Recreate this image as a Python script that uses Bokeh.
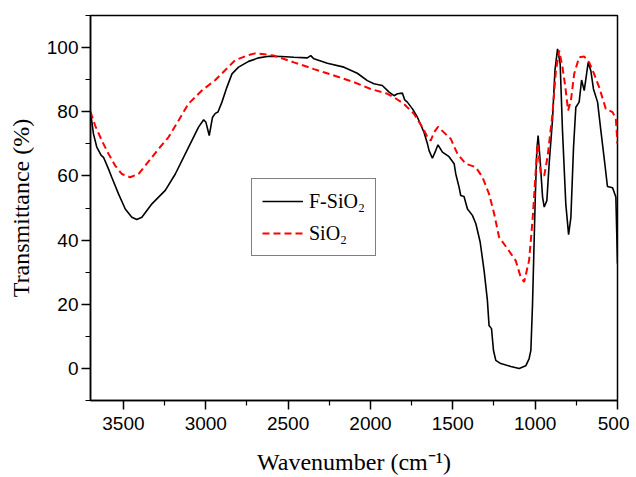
from bokeh.plotting import figure
from bokeh.models import Range1d, Legend, LegendItem, FixedTicker
from bokeh.embed import file_html
from bokeh.resources import INLINE

# F-SiO2 (black, solid)
f_wn = [3700, 3682, 3662, 3635, 3621, 3591, 3571, 3530, 3489, 3449, 3419, 3388, 3327, 3246,
        3185, 3105, 3044, 3013, 2999, 2979, 2959, 2942, 2926, 2902, 2872, 2841, 2801, 2740,
        2679, 2618, 2540, 2465, 2383, 2363, 2343, 2262, 2161, 2080, 2019, 1979, 1928, 1887,
        1857, 1836, 1806, 1792, 1776, 1745, 1715, 1675, 1654, 1644, 1624, 1604, 1590, 1563,
        1523, 1492, 1482, 1462, 1452, 1432, 1411, 1381, 1360, 1334, 1310, 1290, 1280, 1265,
        1253, 1239, 1209, 1148, 1097, 1057, 1037, 1026, 1016, 1006, 1000, 990, 982, 970,
        955, 945, 929, 915, 895, 880, 864, 848, 834, 814, 797, 783, 767, 753, 733, 718, 702,
        678, 662, 646, 621, 601, 577, 561, 530, 510, 500]
f_t = [80.0, 73.1, 69.0, 66.4, 65.8, 62.2, 59.6, 54.4, 49.7, 47.1, 46.4, 47.1, 51.3, 55.5,
       60.6, 68.9, 75.2, 77.5, 76.7, 72.6, 78.3, 79.5, 79.9, 83.0, 87.6, 91.8, 93.9, 95.7,
       96.8, 97.3, 97.2, 97.0, 96.8, 97.5, 96.5, 95.1, 93.9, 92.0, 89.7, 88.7, 88.2, 86.1,
       85.0, 85.6, 85.8, 83.7, 83.0, 80.9, 78.3, 73.6, 70.0, 67.9, 65.5, 67.9, 69.7, 67.4,
       66.0, 63.8, 60.6, 56.5, 53.9, 53.6, 49.7, 47.7, 45.1, 39.4, 30.5, 21.2, 13.4, 12.4,
       5.6, 2.5, 1.5, 0.6, 0.0, 0.8, 3.0, 5.6, 20.0, 40.0, 52.0, 68.0, 72.6, 65.0,
       53.4, 50.3, 52.3, 63.8, 77.3, 92.8, 99.6, 94.9, 74.1, 51.3, 41.7, 47.1, 68.9, 81.4,
       83.0, 89.9, 86.6, 95.4, 92.8, 87.1, 83.0, 74.1, 63.8, 56.7, 56.3, 53.4, 32.6]

# SiO2 (red, dashed)
s_wn = [3700, 3672, 3631, 3591, 3550, 3510, 3459, 3408, 3358, 3287, 3226, 3165, 3105, 3024,
        2942, 2881, 2821, 2740, 2700, 2659, 2586, 2465, 2343, 2222, 2100, 1999, 1897, 1857,
        1796, 1735, 1685, 1654, 1634, 1614, 1590, 1513, 1472, 1422, 1360, 1320, 1280, 1249,
        1219, 1168, 1118, 1091, 1067, 1037, 1016, 996, 985, 966, 945, 925, 895, 874, 854,
        834, 814, 800, 783, 763, 733, 702, 672, 642, 611, 571, 530, 510, 500]
s_t = [80.0, 75.7, 71.0, 66.9, 63.2, 60.6, 59.6, 60.6, 63.8, 68.4, 72.1, 77.3, 82.5, 86.6,
       89.9, 93.0, 96.1, 97.7, 98.2, 98.0, 97.5, 95.4, 93.3, 91.3, 89.2, 87.1, 85.6, 84.5,
       82.4, 79.3, 75.2, 72.1, 71.0, 73.6, 75.3, 71.6, 66.9, 63.8, 62.7, 59.6, 54.4, 48.2,
       40.9, 37.3, 33.6, 29.0, 26.9, 33.6, 46.1, 61.7, 70.0, 60.6, 60.1, 65.8, 79.3, 92.8, 99.1,
       93.9, 86.6, 80.4, 83.5, 91.8, 97.0, 97.2, 95.4, 91.8, 87.6, 80.9, 79.9, 77.8, 70.0]

x_ticks = [3500, 3000, 2500, 2000, 1500, 1000, 500]
y_ticks = [0, 20, 40, 60, 80, 100]
x_minor = [3750, 3250, 2750, 2250, 1750, 1250, 750]
y_minor = [-10, 10, 30, 50, 70, 90, 110]

p = figure(frame_width=527, frame_height=385, output_backend="svg", toolbar_location=None,
           x_range=Range1d(3700, 500), y_range=Range1d(-10, 110),
           min_border_left=90, min_border_top=15, min_border_right=12, min_border_bottom=76,
           background_fill_color="white", border_fill_color="white")

p.xgrid.visible = False
p.ygrid.visible = False
p.outline_line_color = "black"
p.outline_line_width = 1.5

p.xaxis.ticker = FixedTicker(ticks=x_ticks, minor_ticks=x_minor)
p.yaxis.ticker = FixedTicker(ticks=y_ticks, minor_ticks=y_minor)

for ax in (p.xaxis[0], p.yaxis[0]):
    ax.axis_line_width = 1.5
    ax.axis_line_color = "black"
    ax.major_tick_line_width = 1.5
    ax.minor_tick_line_width = 1.2
    ax.major_tick_in = 0
    ax.major_tick_out = 9
    ax.minor_tick_in = 0
    ax.minor_tick_out = 5
    ax.major_label_text_font = "Liberation Sans"
    ax.major_label_text_font_size = "19px"
    ax.major_label_text_color = "black"
    ax.axis_label_text_font = "Liberation Serif"
    ax.axis_label_text_font_size = "24px"
    ax.axis_label_text_font_style = "normal"
    ax.axis_label_text_color = "black"

p.xaxis.axis_label = "Wavenumber (cm\u207b\u00b9)"
p.yaxis.axis_label = "Transmittance (%)"
p.xaxis.major_label_standoff = 7
p.yaxis.major_label_standoff = 3
p.xaxis.axis_label_standoff = 16
p.yaxis.axis_label_standoff = 10

r1 = p.line(f_wn, f_t, line_color="black", line_width=1.6)
r2 = p.line(s_wn, s_t, line_color="#ff0000", line_width=2, line_dash="7 4")

legend = Legend(items=[LegendItem(label="F-SiO\u2082", renderers=[r1]),
                       LegendItem(label="SiO\u2082", renderers=[r2])],
                location=(161, 144))
legend.label_text_font = "Liberation Serif"
legend.label_text_font_size = "20px"
legend.label_text_color = "black"
legend.border_line_color = "black"
legend.border_line_width = 1.2
legend.background_fill_alpha = 1
legend.glyph_width = 41
legend.glyph_height = 24
legend.label_height = 24
legend.label_standoff = 6
legend.spacing = 8
legend.padding = 10
legend.margin = 0
p.add_layout(legend, "center")

open("out.html", "w").write(file_html(p, INLINE))
